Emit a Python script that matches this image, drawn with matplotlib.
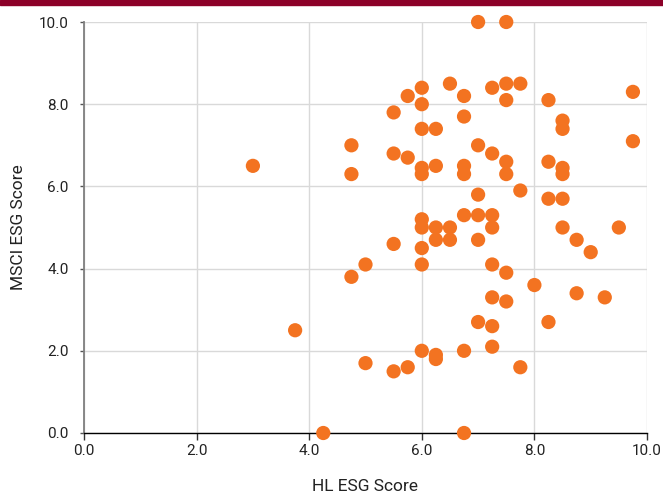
import matplotlib
matplotlib.use("Agg")
import matplotlib.pyplot as plt
from matplotlib.patches import Rectangle

hl_esg = [7.0, 7.5, 6.5, 7.5, 7.75, 6.0, 7.25, 5.75, 6.75, 7.5, 8.25, 9.75,
          6.0, 5.5, 6.75, 8.5, 8.5, 6.0, 6.25, 9.75, 4.75, 7.0, 5.5, 5.75,
          7.25, 7.5, 8.25, 3.0, 6.25, 6.75, 6.75, 6.0, 6.0, 4.75, 7.5, 8.5,
          8.5, 7.75, 7.0, 8.25, 8.5, 6.75, 7.0, 7.25, 6.0, 6.0, 6.25, 6.5,
          7.25, 8.5, 9.5, 6.25, 6.5, 7.0, 8.75, 5.5, 6.0, 9.0, 5.0, 6.0,
          7.25, 7.5, 4.75, 8.0, 8.75, 7.25, 9.25, 7.5, 7.0, 8.25, 7.25, 3.75,
          7.25, 6.0, 6.75, 6.25, 6.25, 5.0, 5.75, 7.75, 5.5, 4.25, 6.75]
msci_esg = [10.0, 10.0, 8.5, 8.5, 8.5, 8.4, 8.4, 8.2, 8.2, 8.1, 8.1, 8.3,
            8.0, 7.8, 7.7, 7.6, 7.4, 7.4, 7.4, 7.1, 7.0, 7.0, 6.8, 6.7,
            6.8, 6.6, 6.6, 6.5, 6.5, 6.5, 6.3, 6.45, 6.3, 6.3, 6.3, 6.45,
            6.3, 5.9, 5.8, 5.7, 5.7, 5.3, 5.3, 5.3, 5.2, 5.0, 5.0, 5.0,
            5.0, 5.0, 5.0, 4.7, 4.7, 4.7, 4.7, 4.6, 4.5, 4.4, 4.1, 4.1,
            4.1, 3.9, 3.8, 3.6, 3.4, 3.3, 3.3, 3.2, 2.7, 2.7, 2.6, 2.5,
            2.1, 2.0, 2.0, 1.9, 1.8, 1.7, 1.6, 1.6, 1.5, 0.0, 0.0]
ticks = [0.0, 2.0, 4.0, 6.0, 8.0, 10.0]
tick_labels = ["0.0", "2.0", "4.0", "6.0", "8.0", "10.0"]

plt.rcParams['font.family'] = ['Roboto', 'DejaVu Sans']

fig = plt.figure(figsize=(6.63, 4.95), dpi=100)
fig.patches.append(Rectangle((0, 1 - 5 / 495), 1, 5 / 495, transform=fig.transFigure,
                             color='#8C0028', zorder=0))
ax = fig.add_axes([84 / 663, 1 - 433 / 495, 563 / 663, 411 / 495])

ax.scatter(hl_esg, msci_esg, s=105, color='#F37321', edgecolors='none',
           zorder=3, clip_on=False)

ax.set_xlim(0, 10)
ax.set_ylim(0, 10)
ax.set_xticks(ticks)
ax.set_xticklabels(tick_labels)
ax.set_yticks(ticks)
ax.set_yticklabels(tick_labels)
ax.grid(True, color='#D9D9D9', linewidth=1.0, zorder=0)
ax.set_axisbelow(True)

for side in ['top', 'right']:
    ax.spines[side].set_visible(False)
ax.spines['left'].set_color('#7F7F7F')
ax.spines['left'].set_linewidth(1.3)
ax.spines['bottom'].set_color('#000000')
ax.spines['bottom'].set_linewidth(1.0)

ax.tick_params(axis='x', direction='out', length=5, width=1, color='#333333',
               labelsize=11, pad=3, labelcolor='#222222')
ax.tick_params(axis='y', direction='out', length=3, width=1, color='#555555',
               labelsize=11, pad=8, labelcolor='#222222')

ax.set_xlabel('HL ESG Score', fontsize=12.5, labelpad=15, color='#222222')
ax.set_ylabel('MSCI ESG Score', fontsize=12.5, labelpad=9, color='#222222')

fig.savefig('out.png', dpi=100)
